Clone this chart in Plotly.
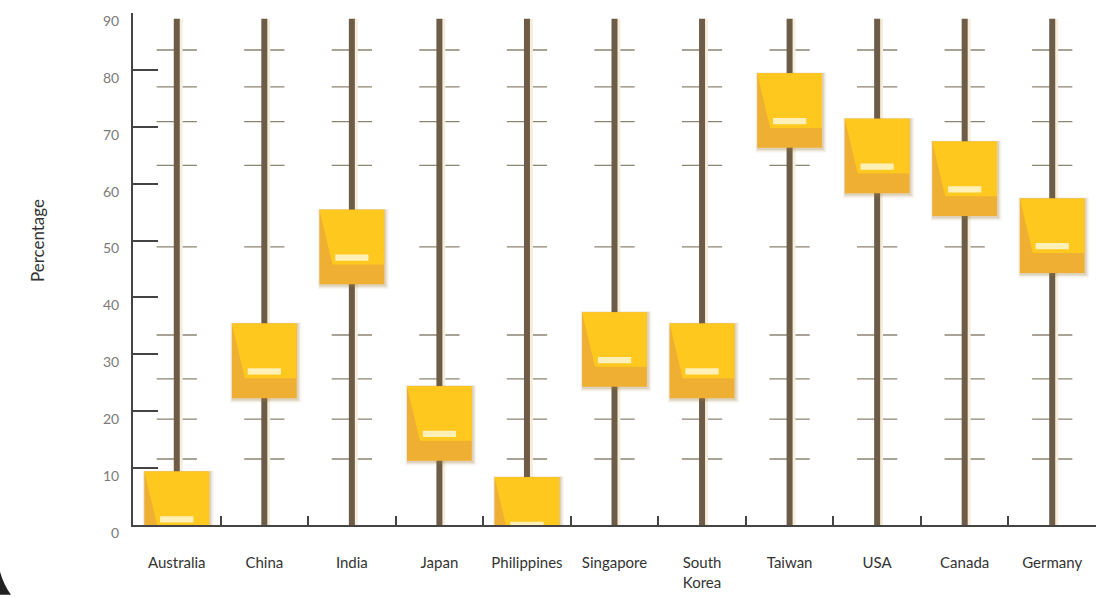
import plotly.graph_objects as go

# ---- data ----
countries = ["Australia", "China", "India", "Japan", "Philippines", "Singapore",
             "South<br>Korea", "Taiwan", "USA", "Canada", "Germany"]
values = [1, 27, 47, 16, 0, 29, 27, 71, 63, 59, 49]
y_ticks = [0, 10, 20, 30, 40, 50, 60, 70, 80, 90]
# decorative short dashes on each slider rail (value levels)
dash_levels = [11.6, 18.6, 25.7, 33.4, 48.9, 63.2, 70.9, 77.0, 83.5]

# ---- styles ----
RAIL = "#6d5c48"
RAIL_GLOW = "#f6eedb"
DASH = "#8d8474"
KNOB_BODY = "#eeaf33"
KNOB_TOP = "#ffc81f"
KNOB_MARK = "#fff0b8"
FONT = "Lato"

n = len(countries)
idx = list(range(n))
RAIL_TOP = 89
HALF_W = 0.37
KNOB_UP = 8.4
KNOB_DOWN = 4.7

# plot area in pixels (for paper-coordinate decorations)
L, R, T, B = 133, 6, 13, 70
PW, PH = 1102 - L - R, 597 - T - B

fig = go.Figure()

# dashes
dx, dy = [], []
for i in idx:
    for lv in dash_levels:
        dx += [i - 0.23, i + 0.23, None]
        dy += [lv, lv, None]
fig.add_trace(go.Scatter(x=dx, y=dy, mode="lines", line=dict(color=DASH, width=1.3),
                         hoverinfo="skip", showlegend=False))

# rail glow
gx, gy = [], []
for i in idx:
    gx += [i + 0.045, i + 0.045, None]
    gy += [0, RAIL_TOP, None]
fig.add_trace(go.Scatter(x=gx, y=gy, mode="lines", line=dict(color=RAIL_GLOW, width=4),
                         hoverinfo="skip", showlegend=False))

# rails
rx, ry = [], []
for i in idx:
    rx += [i, i, None]
    ry += [0, RAIL_TOP, None]
fig.add_trace(go.Scatter(x=rx, y=ry, mode="lines", line=dict(color=RAIL, width=6),
                         hoverinfo="skip", showlegend=False))

# invisible trace on the label axis
fig.add_trace(go.Scatter(x=idx, y=values, xaxis="x2", mode="markers",
                         marker=dict(opacity=0), hoverinfo="skip", showlegend=False))

# knobs
for i, v in zip(idx, values):
    top = v + KNOB_UP
    bot = v - KNOB_DOWN
    x0, x1 = i - HALF_W, i + HALF_W
    # soft shadow (mostly below / right)
    for k, alpha in [(0.045, 0.07), (0.028, 0.12), (0.014, 0.18)]:
        fig.add_shape(type="rect", x0=x0 - k * 0.6 + 0.008, x1=x1 + k + 0.008,
                      y0=bot - k * 14 - 0.2, y1=top + k * 4,
                      line=dict(width=0), fillcolor=f"rgba(160,120,60,{alpha})", layer="above")
    fig.add_shape(type="rect", x0=x0, x1=x1, y0=bot, y1=top,
                  line=dict(width=0), fillcolor=KNOB_BODY, layer="above")
    b1 = v - 1.2
    xl = x0 + 0.4 * HALF_W
    path = f"M {x0},{top} L {x1},{top} L {x1},{b1} L {xl},{b1} Z"
    fig.add_shape(type="path", path=path, line=dict(width=0),
                  fillcolor=KNOB_TOP, layer="above")
    fig.add_shape(type="rect", x0=i - 0.19, x1=i + 0.19, y0=v - 0.55, y1=v + 0.55,
                  line=dict(width=0), fillcolor=KNOB_MARK, layer="above")

# small dark corner artefact at bottom-left of the page
def px(xp):
    return (xp - L) / PW

def py(yp):
    return (597 - B - yp) / PH

corner = (f"M {px(0)},{py(574)} Q {px(4)},{py(588)} {px(11)},{py(597)} "
          f"L {px(0)},{py(597)} Z")
fig.add_shape(type="path", xref="paper", yref="paper", path=corner,
              line=dict(width=0), fillcolor="#222222", layer="above")

# y-axis title as rotated annotation
fig.add_annotation(text="Percentage", xref="paper", yref="paper",
                   x=px(37), y=py(242), xanchor="center", yanchor="middle",
                   textangle=-90, showarrow=False,
                   font=dict(size=17, color="#333333", family=FONT))

fig.update_layout(
    width=1102, height=597,
    margin=dict(l=L, r=R, t=T, b=B),
    paper_bgcolor="white", plot_bgcolor="white",
    font=dict(family=FONT, color="#333333"),
    xaxis=dict(range=[-0.5, n - 0.5], tickmode="array",
               tickvals=[i + 0.5 for i in idx], showticklabels=False,
               ticks="inside", ticklen=9, tickwidth=2, tickcolor="#444444",
               showline=True, linecolor="#444444", linewidth=2,
               showgrid=False, zeroline=False, fixedrange=True),
    xaxis2=dict(range=[-0.5, n - 0.5], overlaying="x", side="bottom", anchor="y",
                tickmode="array", tickvals=idx, ticktext=countries,
                ticks="", showline=False, showgrid=False, zeroline=False,
                tickfont=dict(size=15, color="#333333", family=FONT),
                ticklabelstandoff=27),
    yaxis=dict(range=[0, 90], tickmode="array", tickvals=y_ticks,
               ticks="inside", ticklen=25, tickwidth=2, tickcolor="#444444",
               showline=True, linecolor="#444444", linewidth=2,
               showgrid=False, zeroline=False,
               tickfont=dict(size=14, color="#7a7a7a", family=FONT),
               ticklabelshift=8, ticklabelstandoff=9, ticklabeloverflow="allow"),
)

fig.write_html("out.html")
